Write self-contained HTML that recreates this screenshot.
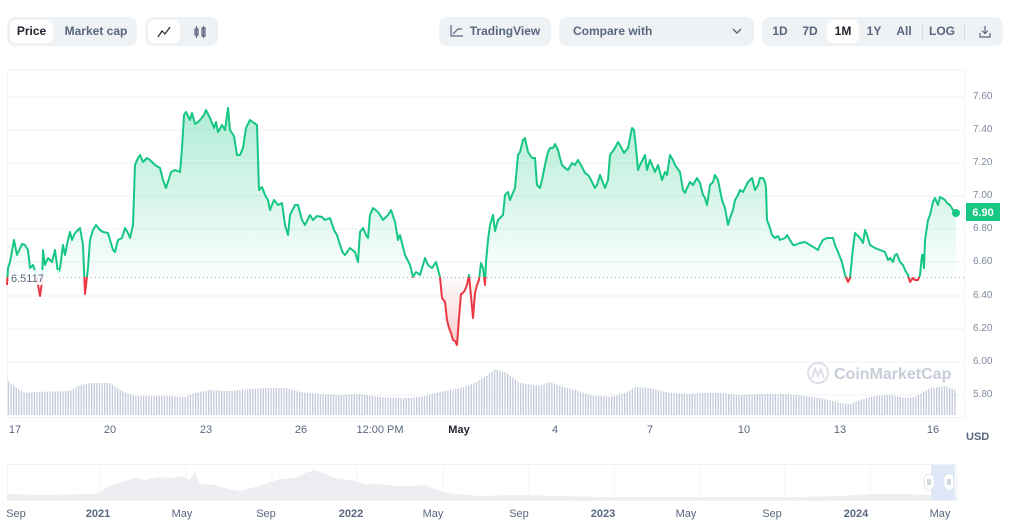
<!DOCTYPE html>
<html><head><meta charset="utf-8">
<style>
html,body{margin:0;padding:0;background:#fff;width:1010px;height:531px;overflow:hidden;font-family:"Liberation Sans",sans-serif;}
.grp{position:absolute;top:17px;height:29px;background:#eff2f5;border-radius:8px;}
.btn{position:absolute;top:3px;height:23px;line-height:23px;font-size:12px;color:#58667e;font-weight:bold;text-align:center;border-radius:6px;}
.act{background:#fff;color:#222531;}
.ax{position:absolute;font-size:10px;color:#808a9d;}
.xl{position:absolute;top:424px;font-size:11px;color:#58667e;transform:translateX(-50%);}
.nl{position:absolute;top:508px;font-size:11px;color:#58667e;transform:translateX(-50%);}
</style></head><body>

<div class="grp" style="left:7px;width:130px;">
 <div class="btn act" style="left:3px;width:43px;">Price</div>
 <div class="btn" style="left:50px;width:78px;">Market cap</div>
</div>
<div class="grp" style="left:145px;width:73px;">
 <div class="btn act" style="left:3px;width:32px;"><svg width="14" height="12" viewBox="0 0 14 12" style="margin-top:6px"><polyline points="1,11 5,5 8,8 13,1" fill="none" stroke="#222531" stroke-width="1.2"/></svg></div>
 <div class="btn" style="left:39px;width:32px;"><svg width="14" height="14" viewBox="0 0 14 14" style="margin-top:5px"><g fill="none" stroke="#58667e" stroke-width="1.2"><rect x="2" y="4" width="3" height="6"/><line x1="3.5" y1="1" x2="3.5" y2="13"/><rect x="9" y="3" width="3" height="8"/><line x1="10.5" y1="1" x2="10.5" y2="13"/></g></svg></div>
</div>
<div class="grp" style="left:439px;width:112px;">
 <div class="btn" style="left:0;width:112px;"><svg width="14" height="12" viewBox="0 0 14 12" style="vertical-align:-2px;margin-right:6px"><polyline points="1,0 1,11 13,11" fill="none" stroke="#58667e" stroke-width="1.2"/><polyline points="3,9 8,4 12,4" fill="none" stroke="#58667e" stroke-width="1.2"/></svg>TradingView</div>
</div>
<div class="grp" style="left:559px;width:195px;">
 <div class="btn" style="left:14px;width:80px;text-align:left;">Compare with</div>
 <svg style="position:absolute;left:173px;top:11px" width="10" height="7" viewBox="0 0 10 7"><polyline points="1,1 5,5 9,1" fill="none" stroke="#58667e" stroke-width="1.4"/></svg>
</div>
<div class="grp" style="left:762px;width:241px;">
 <div class="btn" style="left:4px;width:28px;">1D</div>
 <div class="btn" style="left:34px;width:28px;">7D</div>
 <div class="btn act" style="left:65px;width:32px;">1M</div>
 <div class="btn" style="left:98px;width:28px;">1Y</div>
 <div class="btn" style="left:128px;width:28px;">All</div>
 <div style="position:absolute;left:160px;top:8px;width:1px;height:14px;background:#cfd6e4"></div>
 <div class="btn" style="left:163px;width:34px;">LOG</div>
 <div style="position:absolute;left:202px;top:8px;width:1px;height:14px;background:#cfd6e4"></div>
 <svg style="position:absolute;left:217px;top:8px" width="12" height="13" viewBox="0 0 12 13"><g fill="none" stroke="#58667e" stroke-width="1.2"><line x1="6" y1="1" x2="6" y2="8"/><polyline points="3,5.5 6,8.5 9,5.5"/><polyline points="1,8 1,12 11,12 11,8"/></g></svg>
</div>

<svg style="position:absolute;left:0;top:0" width="1010" height="531">
<defs>
 <linearGradient id="gg" x1="0" y1="100" x2="0" y2="277" gradientUnits="userSpaceOnUse"><stop offset="0" stop-color="#16c784" stop-opacity="0.35"/><stop offset="1" stop-color="#16c784" stop-opacity="0.02"/></linearGradient>
 <linearGradient id="rg" x1="0" y1="277" x2="0" y2="345" gradientUnits="userSpaceOnUse"><stop offset="0" stop-color="#ea3943" stop-opacity="0.02"/><stop offset="1" stop-color="#ea3943" stop-opacity="0.25"/></linearGradient>
 <clipPath id="top"><rect x="0" y="0" width="1010" height="277"/></clipPath>
 <clipPath id="bot"><rect x="0" y="277" width="1010" height="200"/></clipPath>
 <pattern id="vb" width="2.6" height="10" patternUnits="userSpaceOnUse"><rect x="0" y="0" width="1.3" height="10" fill="#c3cadb"/></pattern>
<polygon id="area" points="7,277 7,285 8,268 10,262 14,240 17,255 22,244 25,245 28,250 30,268 33,265 36,274 38,285 40,296 42,282 43,250 45,265 48,258 52,262 55,250 58,273 60,268 63,245 65,255 68,240 70,232 72,240 75,233 80,228 83,245 85,294 88,268 90,240 93,230 96,225 100,230 103,232 108,233 110,240 113,250 115,252 118,240 122,238 125,228 128,233 130,238 133,225 135,165 138,158 140,155 143,162 147,158 150,160 155,165 160,168 163,180 166,188 168,182 171,172 175,170 180,172 182,148 184,115 186,112 190,120 192,113 195,124 198,122 200,120 204,115 206,110 210,118 214,128 216,122 218,132 222,125 225,130 228,108 230,130 234,136 237,155 240,155 243,148 246,128 250,120 254,123 257,125 259,190 262,187 265,195 268,200 270,210 274,200 278,205 282,203 285,225 288,235 290,215 295,205 298,205 302,220 305,225 310,215 313,220 317,216 322,217 325,220 330,218 334,230 337,235 340,245 343,253 345,255 350,248 355,252 358,262 360,232 363,228 366,235 368,238 370,215 373,208 378,212 383,220 388,215 391,210 395,222 398,240 400,235 405,255 410,265 413,277 416,272 420,275 425,258 428,265 432,268 436,262 440,277 442,298 445,302 447,320 449,328 451,333 453,340 455,341 457,345 459,318 461,294 463,293 465,290 467,285 469,275 471,296 473,318 475,293 477,285 479,280 481,263 483,268 485,285 486,262 488,240 490,225 493,215 495,231 498,220 500,218 503,215 505,195 508,192 510,200 512,195 515,188 518,155 520,152 523,140 525,138 528,152 532,158 535,158 537,185 540,188 542,180 545,165 548,152 550,148 553,148 555,144 558,150 560,158 562,165 565,168 568,170 572,163 575,165 578,160 581,165 585,173 588,175 590,178 595,188 597,185 600,175 605,188 608,180 610,155 615,148 618,142 620,145 624,153 628,148 632,128 634,130 636,148 638,170 640,165 645,155 647,170 650,160 655,172 658,165 662,180 665,172 667,175 670,155 673,160 675,165 680,172 683,190 685,193 687,188 690,182 693,185 697,178 700,183 703,195 705,198 707,205 710,185 713,182 715,175 718,180 720,190 722,200 725,208 728,225 730,218 733,210 735,200 738,195 740,190 743,192 745,188 748,182 752,178 755,190 758,185 760,178 763,178 765,182 766,188 767,220 770,228 772,235 775,238 778,236 780,240 785,238 787,235 790,240 793,245 795,245 800,243 805,242 810,245 815,248 818,250 820,245 823,240 827,238 830,238 833,238 835,245 838,252 842,262 845,275 848,282 850,278 853,248 855,233 860,238 863,243 865,230 867,235 870,245 875,248 880,250 885,252 888,260 890,258 893,262 895,255 897,254 900,262 903,265 905,270 908,275 910,282 913,278 915,280 918,280 920,275 922,255 923,255 924,268 925,240 928,220 930,215 933,202 935,198 938,205 940,197 942,198 945,200 947,203 950,205 953,210 956,213 956,277"/>
<polyline id="ln" fill="none" stroke-width="2" stroke-linejoin="round" points="7,285 8,268 10,262 14,240 17,255 22,244 25,245 28,250 30,268 33,265 36,274 38,285 40,296 42,282 43,250 45,265 48,258 52,262 55,250 58,273 60,268 63,245 65,255 68,240 70,232 72,240 75,233 80,228 83,245 85,294 88,268 90,240 93,230 96,225 100,230 103,232 108,233 110,240 113,250 115,252 118,240 122,238 125,228 128,233 130,238 133,225 135,165 138,158 140,155 143,162 147,158 150,160 155,165 160,168 163,180 166,188 168,182 171,172 175,170 180,172 182,148 184,115 186,112 190,120 192,113 195,124 198,122 200,120 204,115 206,110 210,118 214,128 216,122 218,132 222,125 225,130 228,108 230,130 234,136 237,155 240,155 243,148 246,128 250,120 254,123 257,125 259,190 262,187 265,195 268,200 270,210 274,200 278,205 282,203 285,225 288,235 290,215 295,205 298,205 302,220 305,225 310,215 313,220 317,216 322,217 325,220 330,218 334,230 337,235 340,245 343,253 345,255 350,248 355,252 358,262 360,232 363,228 366,235 368,238 370,215 373,208 378,212 383,220 388,215 391,210 395,222 398,240 400,235 405,255 410,265 413,277 416,272 420,275 425,258 428,265 432,268 436,262 440,277 442,298 445,302 447,320 449,328 451,333 453,340 455,341 457,345 459,318 461,294 463,293 465,290 467,285 469,275 471,296 473,318 475,293 477,285 479,280 481,263 483,268 485,285 486,262 488,240 490,225 493,215 495,231 498,220 500,218 503,215 505,195 508,192 510,200 512,195 515,188 518,155 520,152 523,140 525,138 528,152 532,158 535,158 537,185 540,188 542,180 545,165 548,152 550,148 553,148 555,144 558,150 560,158 562,165 565,168 568,170 572,163 575,165 578,160 581,165 585,173 588,175 590,178 595,188 597,185 600,175 605,188 608,180 610,155 615,148 618,142 620,145 624,153 628,148 632,128 634,130 636,148 638,170 640,165 645,155 647,170 650,160 655,172 658,165 662,180 665,172 667,175 670,155 673,160 675,165 680,172 683,190 685,193 687,188 690,182 693,185 697,178 700,183 703,195 705,198 707,205 710,185 713,182 715,175 718,180 720,190 722,200 725,208 728,225 730,218 733,210 735,200 738,195 740,190 743,192 745,188 748,182 752,178 755,190 758,185 760,178 763,178 765,182 766,188 767,220 770,228 772,235 775,238 778,236 780,240 785,238 787,235 790,240 793,245 795,245 800,243 805,242 810,245 815,248 818,250 820,245 823,240 827,238 830,238 833,238 835,245 838,252 842,262 845,275 848,282 850,278 853,248 855,233 860,238 863,243 865,230 867,235 870,245 875,248 880,250 885,252 888,260 890,258 893,262 895,255 897,254 900,262 903,265 905,270 908,275 910,282 913,278 915,280 918,280 920,275 922,255 923,255 924,268 925,240 928,220 930,215 933,202 935,198 938,205 940,197 942,198 945,200 947,203 950,205 953,210 956,213"/>
</defs>
<line x1="7" y1="70" x2="964" y2="70" stroke="#eff2f5"/>
<line x1="7.5" y1="70" x2="7.5" y2="417" stroke="#eff2f5"/>
<line x1="964.5" y1="70" x2="964.5" y2="417" stroke="#eff2f5"/>
<line x1="7" y1="417.5" x2="964" y2="417.5" stroke="#eff2f5"/>
<g stroke="#f0f2f6" stroke-width="1">
<line x1="7" y1="97" x2="964" y2="97"/><line x1="7" y1="130" x2="964" y2="130"/><line x1="7" y1="163" x2="964" y2="163"/><line x1="7" y1="196" x2="964" y2="196"/><line x1="7" y1="229" x2="964" y2="229"/><line x1="7" y1="262" x2="964" y2="262"/><line x1="7" y1="296" x2="964" y2="296"/><line x1="7" y1="329" x2="964" y2="329"/><line x1="7" y1="362" x2="964" y2="362"/><line x1="7" y1="395" x2="964" y2="395"/>
</g>
<polygon fill="url(#vb)" points="7,415 7,380 15,387 25,393 35,392 70,391 80,385 90,383 110,383 120,390 135,396 150,396 170,396 185,397 195,393 210,390 230,391 250,389 265,388 285,388 300,392 320,394 340,395 360,394 380,397 395,398 410,398 425,396 440,392 460,388 475,383 485,377 495,369 505,372 520,383 540,386 550,382 560,386 575,390 590,395 610,397 625,393 635,387 650,388 670,393 690,394 700,393 720,393 740,395 760,394 780,394 800,395 820,398 840,403 850,404 860,400 875,396 890,395 905,398 915,397 930,388 945,386 956,390 956,415"/>
<g opacity="0.55"><circle cx="818" cy="373" r="10" fill="none" stroke="#c0c6d4" stroke-width="2"/><polyline points="812,378 815,369 818,376 821,369 824,378" fill="none" stroke="#c0c6d4" stroke-width="1.8"/></g>
<text x="834" y="379" font-size="16" fill="#c7cdd9" font-family="Liberation Sans,sans-serif" font-weight="bold">CoinMarketCap</text>

<use href="#area" fill="url(#gg)" clip-path="url(#top)"/>
<use href="#area" fill="url(#rg)" clip-path="url(#bot)"/>
<line x1="7" y1="277.5" x2="964" y2="277.5" stroke="#a6b0c3" stroke-dasharray="1,3"/>
<use href="#ln" stroke="#16c784" clip-path="url(#top)"/>
<use href="#ln" stroke="#ea3943" clip-path="url(#bot)"/>
<circle cx="956" cy="213" r="4" fill="#16c784"/>
<rect x="9" y="270" width="50" height="15" fill="#fff" opacity="0.85"/>
<text x="11" y="282" font-size="11" fill="#58667e" font-family="Liberation Sans,sans-serif">6.5117</text>

<rect x="7.5" y="464.5" width="949" height="36" fill="none" stroke="#eff2f5"/>
<g stroke="#f3f4f7"><line x1="100" y1="465" x2="100" y2="500"/><line x1="186" y1="465" x2="186" y2="500"/><line x1="272" y1="465" x2="272" y2="500"/><line x1="357" y1="465" x2="357" y2="500"/><line x1="443" y1="465" x2="443" y2="500"/><line x1="529" y1="465" x2="529" y2="500"/><line x1="614" y1="465" x2="614" y2="500"/><line x1="700" y1="465" x2="700" y2="500"/><line x1="785" y1="465" x2="785" y2="500"/><line x1="870" y1="465" x2="870" y2="500"/></g>
<polygon fill="#eceef2" points="7,500 7,494 40,495 95,494 110,486 125,481 135,478 145,480 160,477 170,478 180,476 190,480 195,472 200,484 215,485 225,488 240,491 255,487 265,484 280,479 295,478 305,473 315,470 325,474 335,478 350,480 365,484 380,484 395,486 410,486 425,485 440,491 455,494 480,496 520,495 560,496 600,497 650,497 700,497 760,497 800,497 840,496 870,494 900,494 930,495 957,495 957,500"/>
<rect x="931" y="465" width="24" height="35" fill="#dce5f7" opacity="0.9"/>
<rect x="924" y="474" width="10" height="16" rx="5" fill="#fff" stroke="#e6e9ef"/>
<rect x="944" y="474" width="10" height="16" rx="5" fill="#fff" stroke="#e6e9ef"/>
<g stroke="#a6b0c3"><line x1="928" y1="479" x2="928" y2="485"/><line x1="930" y1="479" x2="930" y2="485"/><line x1="948" y1="479" x2="948" y2="485"/><line x1="950" y1="479" x2="950" y2="485"/></g>

<rect x="966" y="203" width="34" height="18" fill="#16c784"/>
<text x="983" y="216" font-size="11" font-weight="bold" fill="#fff" text-anchor="middle" font-family="Liberation Sans,sans-serif">6.90</text>
</svg>

<div class="ax" style="left:973px;top:91px">7.60</div>
<div class="ax" style="left:973px;top:124px">7.40</div>
<div class="ax" style="left:973px;top:157px">7.20</div>
<div class="ax" style="left:973px;top:190px">7.00</div>
<div class="ax" style="left:973px;top:223px">6.80</div>
<div class="ax" style="left:973px;top:256px">6.60</div>
<div class="ax" style="left:973px;top:290px">6.40</div>
<div class="ax" style="left:973px;top:323px">6.20</div>
<div class="ax" style="left:973px;top:356px">6.00</div>
<div class="ax" style="left:973px;top:389px">5.80</div>

<div class="xl" style="left:15px">17</div>
<div class="xl" style="left:110px">20</div>
<div class="xl" style="left:206px">23</div>
<div class="xl" style="left:301px">26</div>
<div class="xl" style="left:380px">12:00 PM</div>
<div class="xl" style="left:459px;font-weight:bold;color:#222531">May</div>
<div class="xl" style="left:555px">4</div>
<div class="xl" style="left:650px">7</div>
<div class="xl" style="left:744px">10</div>
<div class="xl" style="left:840px">13</div>
<div class="xl" style="left:933px">16</div>
<div style="position:absolute;left:966px;top:431px;font-size:11px;font-weight:bold;color:#58667e">USD</div>

<div class="nl" style="left:16px">Sep</div>
<div class="nl" style="left:98px;font-weight:bold">2021</div>
<div class="nl" style="left:182px">May</div>
<div class="nl" style="left:266px">Sep</div>
<div class="nl" style="left:351px;font-weight:bold">2022</div>
<div class="nl" style="left:433px">May</div>
<div class="nl" style="left:519px">Sep</div>
<div class="nl" style="left:603px;font-weight:bold">2023</div>
<div class="nl" style="left:686px">May</div>
<div class="nl" style="left:772px">Sep</div>
<div class="nl" style="left:856px;font-weight:bold">2024</div>
<div class="nl" style="left:940px">May</div>
</body></html>
